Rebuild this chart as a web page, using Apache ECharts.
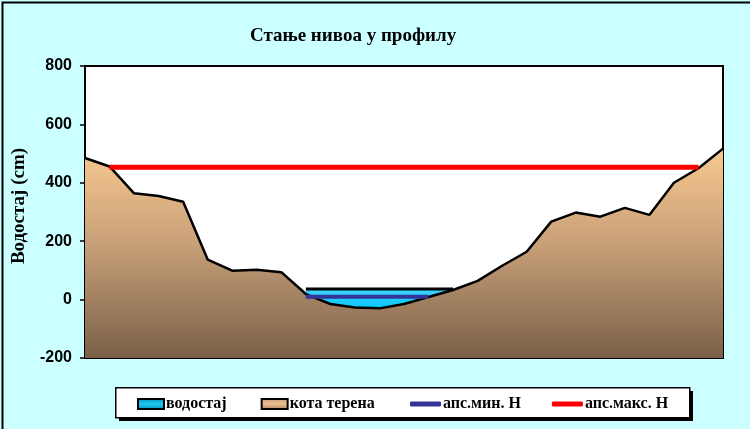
<!DOCTYPE html>
<html>
<head>
<meta charset="utf-8">
<script src="https://cdn.jsdelivr.net/npm/echarts@6/dist/echarts.min.js"></script>
<style>
html,body{margin:0;padding:0;background:#ccffff;}
#chart{width:750px;height:429px;}
</style>
</head>
<body>
<div id="chart"></div>
<script>
var titleText = 'Стање нивоа у профилу';
var yAxisName = 'Водостај (cm)';
var seriesNames = ['водостај', 'кота терена', 'апс.мин. Н', 'апс.макс. Н'];
var categories = ['1','2','3','4','5','6','7','8','9','10','11','12','13','14','15','16','17','18','19','20','21','22','23','24','25','26','27'];
var terrain = [485, 456, 364, 355, 335, 137, 99, 102, 94, 19, -15, -27, -30, -15, 9, 33, 64, 116, 164, 267, 298, 284, 314, 290, 400, 450, 517];
var waterLevel = [null, null, null, null, null, null, null, null, null, 36, 36, 36, 36, 36, 36, 36, null, null, null, null, null, null, null, null, null, null, null];
var minH = [null, null, null, null, null, null, null, null, null, 10, 10, 10, 10, 10, 10, null, null, null, null, null, null, null, null, null, null, null, null];
var maxH = [null, 453, 453, 453, 453, 453, 453, 453, 453, 453, 453, 453, 453, 453, 453, 453, 453, 453, 453, 453, 453, 453, 453, 453, 453, 453, null];
var yMin = -200, yMax = 800, yStep = 200;

var legendText = {fontFamily: 'Liberation Serif', fontWeight: 'bold', fontSize: 16, color: '#000', padding: [0, 0, 0, -3]};

var chart = echarts.init(document.getElementById('chart'));
chart.setOption({
  backgroundColor: '#ccffff',
  animation: false,
  title: {
    text: titleText,
    left: 245, top: 22,
    textStyle: {fontFamily: 'Liberation Serif', fontWeight: 'bold', fontSize: 19, color: '#000'}
  },
  graphic: [
    {
      type: 'rect', left: 0, top: 0, z: 100, silent: true,
      shape: {width: 749, height: 428},
      style: {fill: 'none', stroke: '#000', lineWidth: 2}
    },
    {
      type: 'rect', left: 119, top: 391, z: 1, silent: true,
      shape: {width: 574, height: 30},
      style: {fill: '#000'}
    },
    {
      type: 'rect', left: 115, top: 387, z: 2, silent: true,
      shape: {width: 574, height: 30},
      style: {fill: '#fff', stroke: '#000', lineWidth: 1.5}
    }
  ],
  grid: {
    left: 85, right: 27, top: 66, bottom: 71, outerBoundsMode: 'none', containLabel: false,
    show: true, backgroundColor: '#fff', borderColor: '#000', borderWidth: 2
  },
  legend: [
    {
      left: 137, top: 396, padding: 0, z: 5,
      itemGap: 34, itemWidth: 26, itemHeight: 10,
      textStyle: legendText,
      data: [
        {name: seriesNames[0], icon: 'rect', itemStyle: {color: {type: 'linear', x: 0, y: 0, x2: 0, y2: 1, colorStops: [{offset: 0, color: '#0090c0'}, {offset: 0.5, color: '#20c8f0'}, {offset: 1, color: '#0090c0'}]}, borderColor: '#000', borderWidth: 2}},
        {name: seriesNames[1], icon: 'rect', itemStyle: {color: {type: 'linear', x: 0, y: 0, x2: 0, y2: 1, colorStops: [{offset: 0, color: '#c09878'}, {offset: 0.5, color: '#f0c090'}, {offset: 1, color: '#a08060'}]}, borderColor: '#000', borderWidth: 2}}
      ]
    },
    {
      left: 410, top: 396, padding: 0, z: 5,
      itemGap: 31, itemWidth: 31, itemHeight: 5,
      textStyle: legendText,
      data: [
        {name: seriesNames[2], icon: 'roundRect', itemStyle: {color: '#333399', borderWidth: 0}},
        {name: seriesNames[3], icon: 'roundRect', itemStyle: {color: '#ff0000', borderWidth: 0}}
      ]
    }
  ],
  xAxis: {
    type: 'category', data: categories, boundaryGap: false,
    axisLine: {show: false}, axisTick: {show: false}, axisLabel: {show: false}, splitLine: {show: false}
  },
  yAxis: {
    type: 'value', min: yMin, max: yMax, interval: yStep,
    name: yAxisName, nameLocation: 'middle', nameGap: 53, nameRotate: 90,
    nameTextStyle: {fontFamily: 'Liberation Serif', fontWeight: 'bold', fontSize: 19, color: '#000', padding: [0, 0, 0, 12]},
    axisLine: {show: true, lineStyle: {color: '#000', width: 2}},
    axisTick: {show: true, length: 5, lineStyle: {color: '#000', width: 1.5}},
    axisLabel: {margin: 13, fontFamily: 'Liberation Sans', fontWeight: 'bold', fontSize: 16, color: '#000'},
    splitLine: {show: false}
  },
  series: [
    {
      name: seriesNames[0], type: 'line', data: waterLevel, symbol: 'none', z: 1,
      lineStyle: {color: '#000', width: 3},
      itemStyle: {color: '#20c8f0'},
      areaStyle: {origin: 'start', opacity: 1, color: {type: 'linear', x: 0, y: 0, x2: 0, y2: 1, colorStops: [{offset: 0, color: '#40d0ff'}, {offset: 0.3, color: '#00c8f8'}, {offset: 1, color: '#00a0d0'}]}}
    },
    {
      name: seriesNames[1], type: 'line', data: terrain, symbol: 'none', z: 2,
      lineStyle: {color: '#000', width: 2.5},
      itemStyle: {color: '#d8a878'},
      areaStyle: {origin: 'start', opacity: 1, color: {type: 'linear', x: 0, y: 0, x2: 0, y2: 1, colorStops: [{offset: 0, color: '#f8c890'}, {offset: 0.45, color: '#c8a078'}, {offset: 1, color: '#7a6048'}]}}
    },
    {
      name: seriesNames[2], type: 'line', data: minH, symbol: 'none', z: 3,
      lineStyle: {color: '#333399', width: 4}, itemStyle: {color: '#333399'}
    },
    {
      name: seriesNames[3], type: 'line', data: maxH, symbol: 'none', z: 3,
      lineStyle: {color: '#ff0000', width: 5}, itemStyle: {color: '#ff0000'}
    }
  ]
});
</script>
</body>
</html>
